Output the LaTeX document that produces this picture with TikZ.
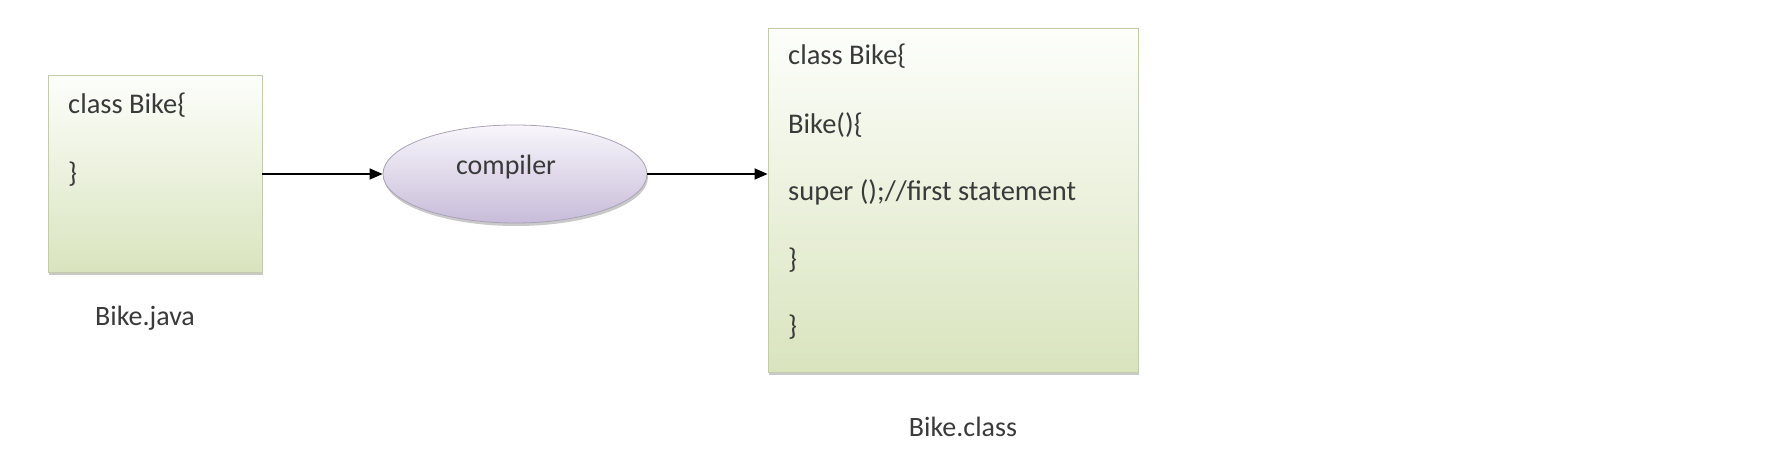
\documentclass[tikz,border=0pt]{standalone}
\usepackage{fontspec}
\setmainfont{Carlito}
\usetikzlibrary{shapes.geometric,shadows,arrows.meta}
\definecolor{txt}{HTML}{3A3A3A}
\definecolor{gtop}{HTML}{FDFEFB}
\definecolor{gbot}{HTML}{D9E4BE}
\definecolor{gborder}{HTML}{C3CCAA}
\definecolor{ptop}{HTML}{F8F6FB}
\definecolor{pbot}{HTML}{C8BCDA}
\definecolor{pborder}{HTML}{A9A4B5}
\tikzset{
  codebox/.style={rectangle, draw=gborder, line width=0.8pt, top color=gtop, bottom color=gbot,
    drop shadow={shadow xshift=1pt, shadow yshift=-3pt, opacity=0.35, fill=black!60}},
  compbox/.style={ellipse, draw=pborder, line width=0.8pt, top color=ptop, bottom color=pbot,
    drop shadow={shadow xshift=1pt, shadow yshift=-3pt, opacity=0.35, fill=black!60}},
  codetext/.style={anchor=base west, inner sep=0pt, text=txt, font=\fontsize{28.5}{33}\selectfont},
  lbl/.style={inner sep=0pt, text=txt, font=\fontsize{28}{33}\selectfont},
  conn/.style={line width=1.3pt, black, -{Triangle[length=13pt,width=11pt]}}
}
\begin{document}
\begin{tikzpicture}[x=1pt,y=-1pt]
\useasboundingbox[fill=white] (0,0) rectangle (1782,460);
% left box
\node[codebox, minimum width=214pt, minimum height=197pt] (lbox) at (155,173.5) {};
\node[codetext] (l1) at (68,113) {class Bike\{};
\node[codetext] (l2) at (68,182) {\}};
\node[lbl] (ljava) at (145,318) {Bike.java};
% compiler
\node[compbox, minimum width=264pt, minimum height=98pt, inner sep=0pt] (comp) at (515,174) {};
\node[lbl] (ctext) at (506,167) {compiler};
% right box
\node[codebox, minimum width=370pt, minimum height=344pt] (rbox) at (953,200) {};
\node[codetext] (r1) at (788,65) {class Bike\{};
\node[codetext] (r2) at (788,133) {Bike()\{};
\node[codetext] (r3) at (788,200) {super ();//first statement};
\node[codetext] (r4) at (788,268) {\}};
\node[codetext] (r5) at (788,335) {\}};
\node[lbl] (rclass) at (963,427) {Bike.class};
% connectors
\draw[conn] (lbox.east |- comp.west) -- (comp.west);
\draw[conn] (comp.east) -- (comp.east -| rbox.west);
\end{tikzpicture}
\end{document}
